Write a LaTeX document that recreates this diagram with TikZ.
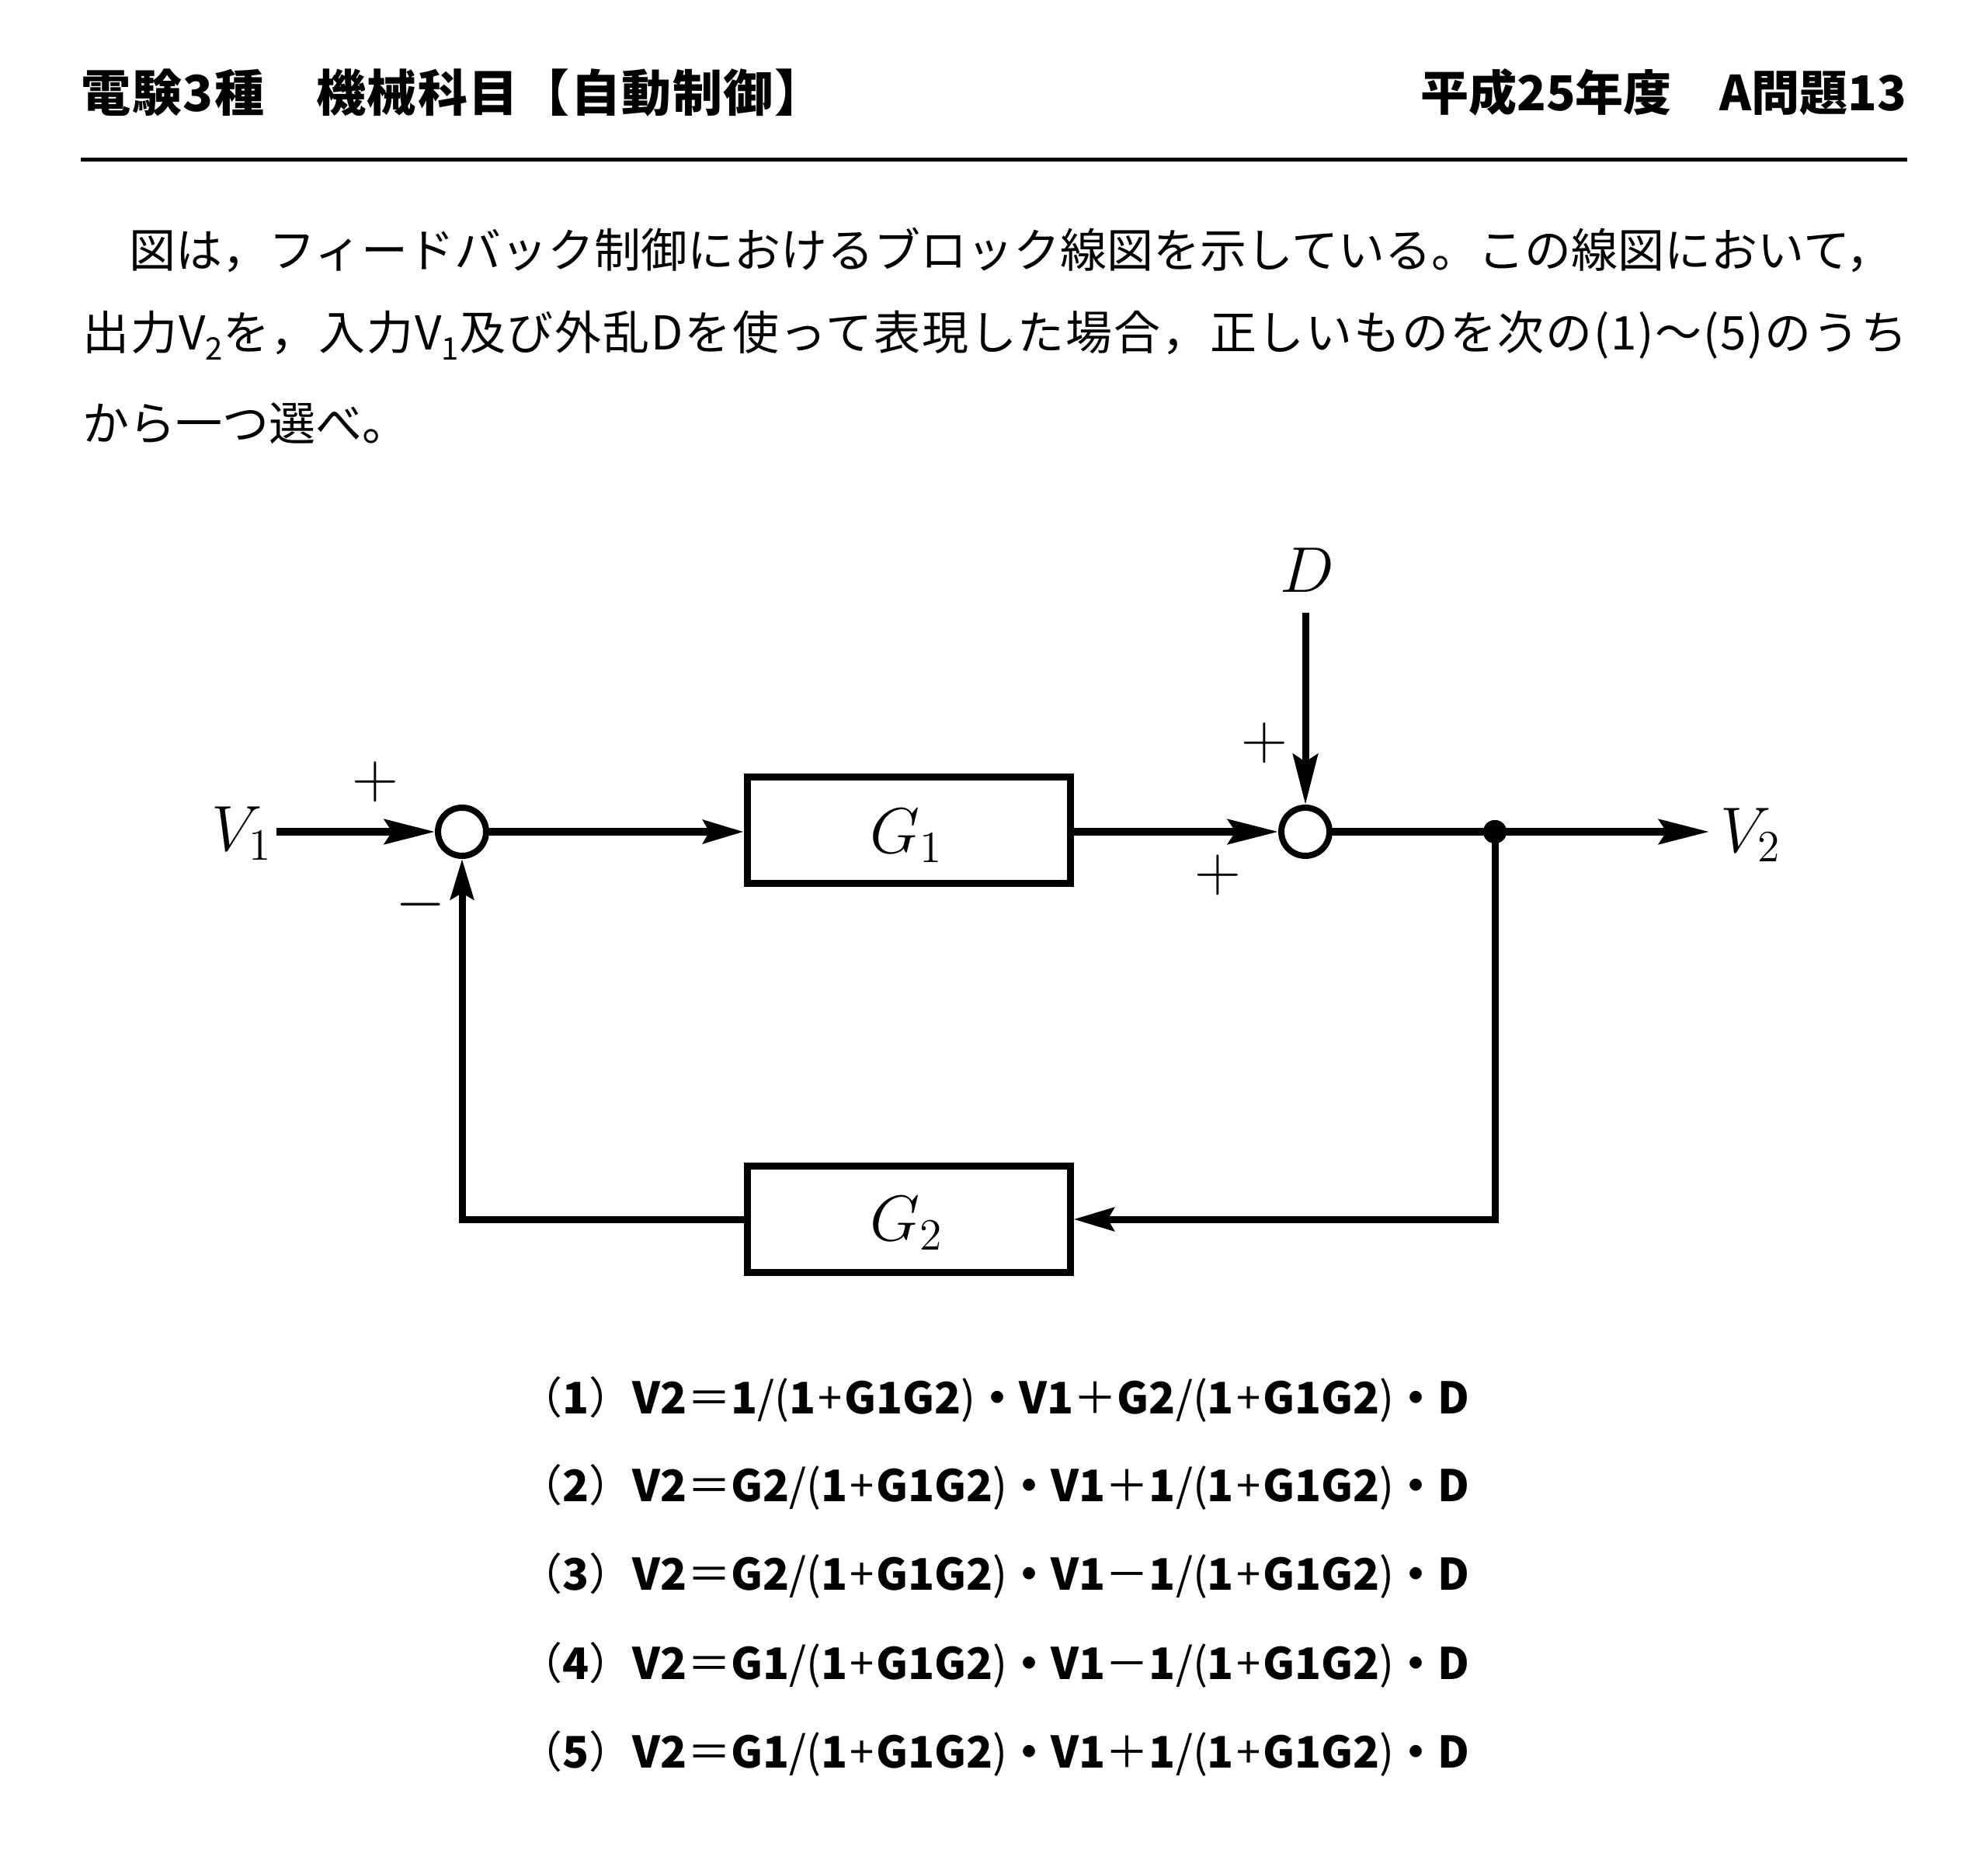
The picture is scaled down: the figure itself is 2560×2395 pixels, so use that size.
\documentclass[tikz,border=0pt]{standalone}
\usepackage{fontspec}
\usetikzlibrary{arrows.meta}
\newfontfamily\jp{Noto Sans CJK JP}
\newcommand\rg[1]{{\mdseries #1}}
\newcommand\ip{\rg{\kern0.8pt+\kern0.8pt}}
\newcommand\sbs[1]{\raisebox{-0.22em}{\fontsize{10pt}{10pt}\selectfont #1}}
\begin{document}
\begin{tikzpicture}[x=0.25pt,y=-0.25pt,
  wire/.style={line width=2.25pt,line join=miter},
  arrL/.style={wire,-{Stealth[length=16.25pt,width=8pt,inset=2.5pt]}},
  arrS/.style={wire,-{Stealth[length=13pt,width=7.5pt,inset=2pt]}},
  sumnode/.style={circle,draw,line width=2pt,minimum size=15.5pt,inner sep=0pt},
  blk/.style={rectangle,draw,line width=2.25pt,minimum width=104pt,minimum height=34.25pt,inner sep=0pt},
  dotnode/.style={circle,fill,minimum size=7.5pt,inner sep=0pt},
  lbl/.style={inner sep=0pt,font=\fontsize{20pt}{24pt}\selectfont},
  hdr/.style={inner sep=0pt,font=\jp\bfseries\fontsize{16pt}{19pt}\selectfont},
  body/.style={inner sep=0pt,font=\jp\fontsize{15pt}{18pt}\selectfont},
  ans/.style={inner sep=0pt,anchor=west,font=\jp\bfseries\fontsize{14pt}{17pt}\selectfont}]
\useasboundingbox (0,0) rectangle (2560,2395);
% header
\node[hdr,anchor=west] (hl) at (104,119) {\addfontfeatures{LetterSpace=2.4}電験3種　機械科目【自動制御】};
\node[hdr,anchor=east,font=\jp\bfseries\fontsize{15.5pt}{19pt}\selectfont] (hr) at (2456,119) {平成25年度　A問題13};
\coordinate (rl) at (104,205.5);
\coordinate (rr) at (2456,205.5);
\draw[line width=1.25pt] (rl) -- (rr);
% question text
\node[body,anchor=west] (t1) at (106,322) {　図は，フィードバック制御におけるブロック線図を示している。この線図において，};
\node[body,anchor=west] (t2) at (106,432) {\addfontfeatures{LetterSpace=3.0}出力V\sbs{2}を，入力V\sbs{1}及び外乱Dを使って表現した場合，正しいものを次の(1)〜(5)のうち};
\node[body,anchor=west] (t3) at (106,545) {から一つ選べ。};
% block diagram
\node[sumnode] (s1) at (595,1071) {};
\node[sumnode] (s2) at (1681,1071) {};
\node[blk] (g1) at (1170,1069) {};
\node[blk] (g2) at (1170,1570) {};
\node[dotnode] (jd) at (1925,1071) {};
\coordinate (vin) at (356,1071);
\coordinate (din) at (1681,789);
\coordinate (vout) at (2201,1071);
\node[lbl,anchor=base west] (v1l) at (272,1095) {$V_1$};
\node[lbl,anchor=base west] (dl) at (1648,763) {$D$};
\node[lbl,anchor=base west] (v2l) at (2215,1097) {$V_2$};
\node[lbl,anchor=base west] (g1l) at (1120,1098) {$G_1$};
\node[lbl,anchor=base west] (g2l) at (1120,1597) {$G_2$};
\node[lbl] (p1) at (483,1007) {$+$};
\node[lbl] (m1) at (542,1165) {$-$};
\node[lbl] (p2) at (1628,957) {$+$};
\node[lbl] (p3) at (1568,1127) {$+$};
\draw[arrL] (vin) -- (s1.west);
\draw[arrS] (s1.east) -- (s1.east -| g1.west);
\draw[arrL] (g1.east |- s2.west) -- (s2.west);
\draw[arrL] (din) -- (s2.north);
\draw[arrL] (s2.east) -- (vout);
\draw[arrS] (jd.center) |- (g2.east);
\draw[arrS] (g2.west) -| (s1.south);
\node[dotnode] (jd2) at (jd) {};
% answers
\node[ans] (a1) at (668,1802) {\rg{（}1\rg{）}V2\rg{＝}1\rg{/(}1\ip G1G2\rg{)}・V1\rg{＋}G2\rg{/(}1\ip G1G2\rg{)}・D};
\node[ans] (a2) at (668,1915) {\rg{（}2\rg{）}V2\rg{＝}G2\rg{/(}1\ip G1G2\rg{)}・V1\rg{＋}1\rg{/(}1\ip G1G2\rg{)}・D};
\node[ans] (a3) at (668,2029) {\rg{（}3\rg{）}V2\rg{＝}G2\rg{/(}1\ip G1G2\rg{)}・V1\rg{－}1\rg{/(}1\ip G1G2\rg{)}・D};
\node[ans] (a4) at (668,2144) {\rg{（}4\rg{）}V2\rg{＝}G1\rg{/(}1\ip G1G2\rg{)}・V1\rg{－}1\rg{/(}1\ip G1G2\rg{)}・D};
\node[ans] (a5) at (668,2258) {\rg{（}5\rg{）}V2\rg{＝}G1\rg{/(}1\ip G1G2\rg{)}・V1\rg{＋}1\rg{/(}1\ip G1G2\rg{)}・D};
\end{tikzpicture}
\end{document}
